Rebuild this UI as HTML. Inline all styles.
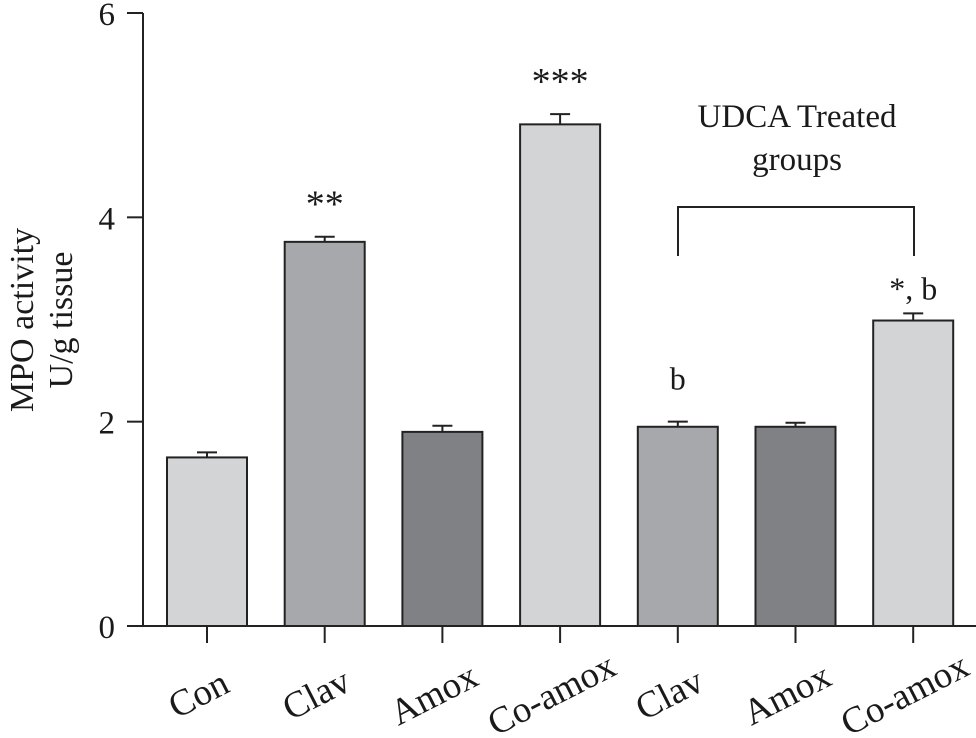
<!DOCTYPE html>
<html><head><meta charset="utf-8"><style>
body{margin:0;background:#fff}
svg text{font-family:"Liberation Serif",serif;fill:#1a1a1a}
</style></head><body>
<svg id="chart" width="976" height="733" viewBox="0 0 976 733" xmlns="http://www.w3.org/2000/svg">
<g id="bars"></g>
<g id="axes"></g>
<text transform="translate(33,320) rotate(-90)" text-anchor="middle" font-size="34">MPO activity</text>
<text transform="translate(72,320) rotate(-90)" text-anchor="middle" font-size="34">U/g tissue</text>
<text x="797" y="127" text-anchor="middle" font-size="33">UDCA Treated</text>
<text x="797" y="170" text-anchor="middle" font-size="33">groups</text>
<path d="M678,256 V207 H914 V256" fill="none" stroke="#222" stroke-width="2"/>
</svg>
<script>
const categories=["Con","Clav","Amox","Co-amox","Clav","Amox","Co-amox"];
const values=[1.65,3.76,1.90,4.91,1.95,1.95,2.99];
const errors=[0.05,0.05,0.06,0.10,0.05,0.04,0.07];
const marks=["","**","","***","b","","*, b"];
const colors=["#d3d4d6","#a7a8ab","#808184","#d3d4d6","#a7a8ab","#808184","#d3d4d6"];
const yTicks=[0,2,4,6];
const NS="http://www.w3.org/2000/svg";
const y0=626,yTop=13,yMax=6,xStart=207,step=117.7,bw=80;
function y(v){return y0-(y0-yTop)*v/yMax;}
function x(i){return xStart+i*step;}
function mk(t,a,p){const e=document.createElementNS(NS,t);for(const k in a)e.setAttribute(k,a[k]);p.appendChild(e);return e;}
const bars=document.getElementById('bars'),axes=document.getElementById('axes');
values.forEach((v,i)=>{
 const cx=x(i);
 const ey=y(v+errors[i]);
 const el=mk('path',{d:`M${cx},${y(v)} V${ey} M${cx-10},${ey} H${cx+10}`,stroke:'#222','stroke-width':2,fill:'none'},bars);
 
 
 const r=mk('rect',{x:cx-bw/2,y:y(v),width:bw,height:y0-y(v),fill:colors[i],stroke:'#222','stroke-width':2},bars);
 
 
 if(marks[i]){
  const isB=marks[i]==='b';
  const t=mk('text',{x:cx,y:isB?ey-32:(marks[i].startsWith('*,')?ey-14:ey-20),'text-anchor':'middle','font-size':isB||marks[i].startsWith('*,')?32:38},bars);
  t.textContent=marks[i];
  
  }
 const tk=mk('line',{x1:cx,x2:cx,y1:y0,y2:y0+17,stroke:'#222','stroke-width':2},axes);
 
 
 const lb=mk('text',{transform:`translate(${cx-3},${y0+79}) rotate(-27)`,'text-anchor':'middle','font-size':37},axes);
 lb.textContent=categories[i];
 
 
});
const ax=mk('path',{d:`M143,${yTop} V${y0} H976`,stroke:'#222','stroke-width':2,fill:'none'},axes);


yTicks.forEach(v=>{
 const l=mk('line',{x1:127,x2:143,y1:y(v),y2:y(v),stroke:'#222','stroke-width':2},axes);
 
 
 const t=mk('text',{x:115,y:y(v)+12,'text-anchor':'end','font-size':33},axes);
 t.textContent=v;
 
 
});
</script>
</body></html>
